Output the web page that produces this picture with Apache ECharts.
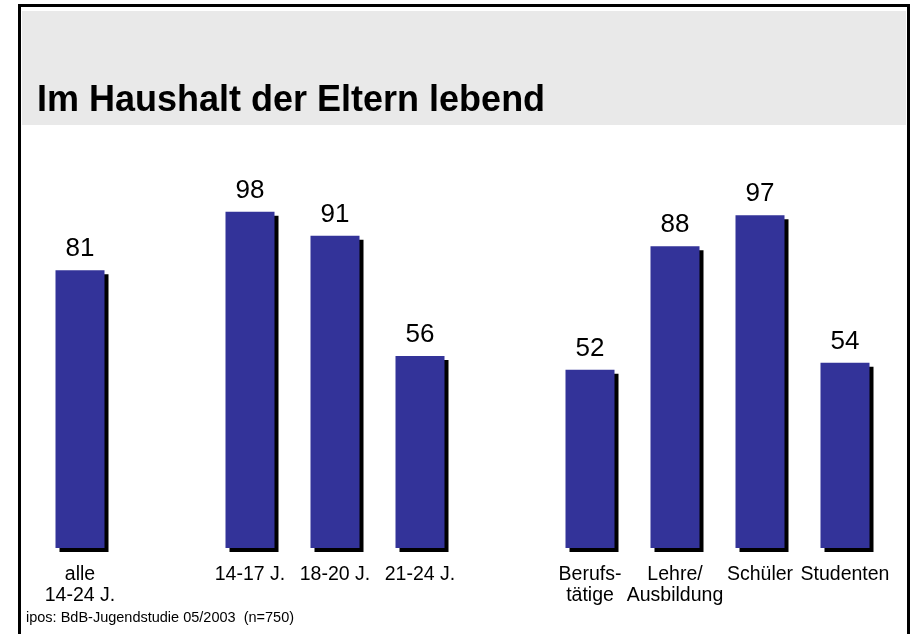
<!DOCTYPE html>
<html>
<head>
<meta charset="utf-8">
<script src="https://cdn.jsdelivr.net/npm/echarts@6/dist/echarts.min.js"></script>
<style>
  html, body { margin: 0; padding: 0; background: #fff; }
  #chart { width: 912px; height: 634px; }
</style>
</head>
<body>
<div id="chart"></div>
<script>
// Kategorien (leere Einträge = Lücken zwischen den Gruppen)
const categories = ["alle\n14-24 J.", "", "14-17 J.", "18-20 J.", "21-24 J.", "", "Berufs-\ntätige", "Lehre/\nAusbildung", "Schüler", "Studenten"];
// Anteil im Haushalt der Eltern lebend (%)
const values = [81, null, 98, 91, 56, null, 52, 88, 97, 54];
const titleText = "Im Haushalt der Eltern lebend";
const sourceText = "ipos: BdB-Jugendstudie 05/2003  (n=750)";

const chart = echarts.init(document.getElementById("chart"));
const option = {
  animation: false,
  backgroundColor: "#fff",
  graphic: [
    // grauer Kopfbalken
    { type: "rect", shape: { x: 22, y: 11, width: 884, height: 114 }, style: { fill: "#e9e9e9" }, z: 0 },
    // Rahmen
    { type: "polyline", shape: { points: [[19.5, 640], [19.5, 5.5], [908.5, 5.5], [908.5, 640]] }, style: { stroke: "#000", lineWidth: 3, fill: null }, z: 1 },
    {
      type: "text", left: 26, top: 610,
      style: { text: sourceText, font: "14.5px 'Liberation Sans', Arial, sans-serif", fill: "#000" }
    }
  ],
  title: {
    text: titleText,
    left: 32, top: 78,
    textStyle: { fontFamily: "'Liberation Sans', Arial, sans-serif", fontSize: 36, fontWeight: "bold", color: "#000" }
  },
  grid: { left: 37.5, right: 24.5, top: 205, bottom: 86 },
  xAxis: {
    type: "category",
    data: categories,
    axisLine: { show: false },
    axisTick: { show: false },
    axisLabel: {
      interval: 0,
      margin: 16,
      color: "#000",
      fontFamily: "'Liberation Sans', Arial, sans-serif",
      fontSize: 19.5,
      lineHeight: 21
    }
  },
  yAxis: { type: "value", min: 0, max: 100, show: false },
  series: [{
    type: "bar",
    data: values,
    barWidth: 49,
    itemStyle: {
      color: "#333399",
      shadowColor: "#000",
      shadowOffsetX: 4,
      shadowOffsetY: 4,
      shadowBlur: 0
    },
    label: {
      show: true,
      position: "top",
      distance: 8,
      color: "#000",
      fontFamily: "'Liberation Sans', Arial, sans-serif",
      fontSize: 26
    }
  }]
};
chart.setOption(option);
</script>
</body>
</html>
